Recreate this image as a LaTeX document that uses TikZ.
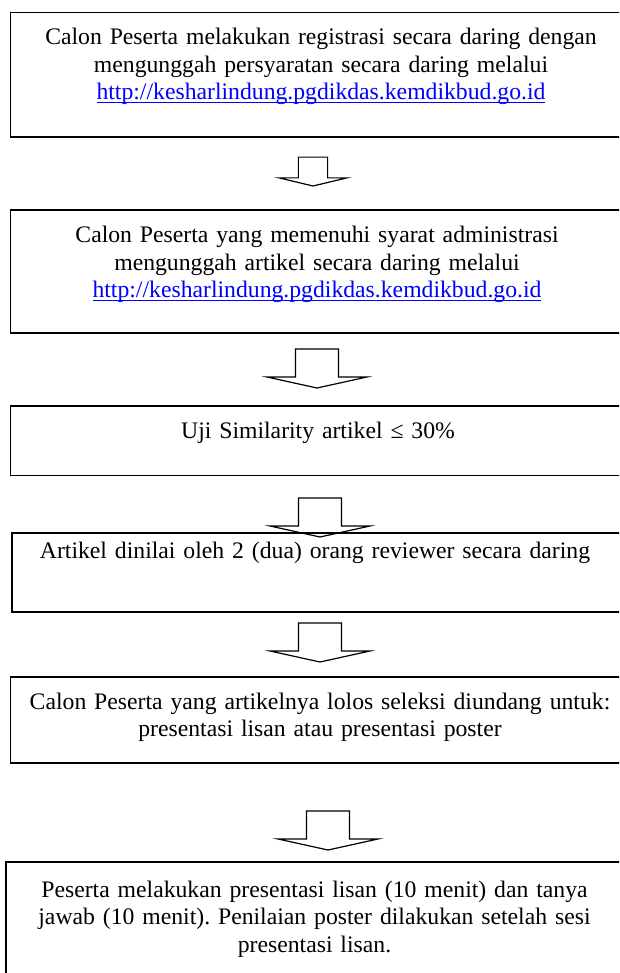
\documentclass[tikz,border=0pt]{standalone}
\usepackage{fontspec}
\setmainfont[WordSpace=0.8]{Liberation Serif}
\usepackage{xcolor}
\usetikzlibrary{calc}
\definecolor{linkblue}{RGB}{0,0,255}
\newcommand{\weblink}[1]{\setbox0\hbox{#1}%
  \textcolor{linkblue}{\rlap{\rule[-2.8pt]{\wd0}{1.2pt}}\box0}}
\frenchspacing

\begin{document}
\begin{tikzpicture}[x=1pt,y=-1pt,
    stepbox/.style={draw,line width=1.3pt,rectangle,inner sep=0pt},
    steptext/.style={text width=600pt,align=center,anchor=base,inner sep=0pt,
      font=\fontsize{23.7}{27.5}\selectfont},
    downarrow/.pic={\draw[line width=1.2pt] (-21.5,-39)--(-21.5,-11)--(-50,-11)--(0,0)
      --(50,-11)--(21.5,-11)--(21.5,-39)--cycle;}]
  \useasboundingbox (0,0) rectangle (619,973);
  \clip (0,0) rectangle (619,973);
  % boxes (right side runs off the page)
  \node[stepbox,minimum width=619.5pt,minimum height=124.5pt](s1)at(320.25,74.75){};
  \node[stepbox,minimum width=619.5pt,minimum height=123pt](s2)at(320.25,271.5){};
  \node[stepbox,minimum width=619.5pt,minimum height=69.5pt](s3)at(320.25,440.75){};
  \node[stepbox,minimum width=618pt,minimum height=79pt](s4)at(321,572.5){};
  \node[stepbox,minimum width=619.5pt,minimum height=86pt](s5)at(320.25,720){};
  \node[stepbox,minimum width=624pt,minimum height=120pt](s6)at(318,922){};
  % texts
  \node[steptext](t1)at(321,45){Calon Peserta melakukan registrasi secara daring dengan\\
    mengunggah persyaratan secara daring melalui\\
    \weblink{http://kesharlindung.pgdikdas.kemdikbud.go.id}};
  \node[steptext](t2)at(317,243){Calon Peserta yang memenuhi syarat administrasi\\
    mengunggah artikel secara daring melalui\\
    \weblink{http://kesharlindung.pgdikdas.kemdikbud.go.id}};
  \node[steptext](t3)at(318,438){Uji Similarity artikel ≤ 30\%};
  \node[steptext](t4)at(315,558){Artikel dinilai oleh 2 (dua) orang reviewer secara daring};
  \node[steptext](t5)at(320,709){Calon Peserta yang artikelnya lolos seleksi diundang untuk:\\
    presentasi lisan atau presentasi poster};
  \node[steptext](t6)at(314.5,897){Peserta melakukan presentasi lisan (10 menit) dan tanya\\
    jawab (10 menit). Penilaian poster dilakukan setelah sesi\\
    presentasi lisan.};
  % arrows
  \pic[xscale=0.68,yscale=0.74](a1)at(313,186){downarrow};
  \pic(a2)at(317,388){downarrow};
  \pic(a3)at(320,537){downarrow};
  \pic(a4)at(320,662){downarrow};
  \pic(a5)at(328,850){downarrow};
\end{tikzpicture}
\end{document}
